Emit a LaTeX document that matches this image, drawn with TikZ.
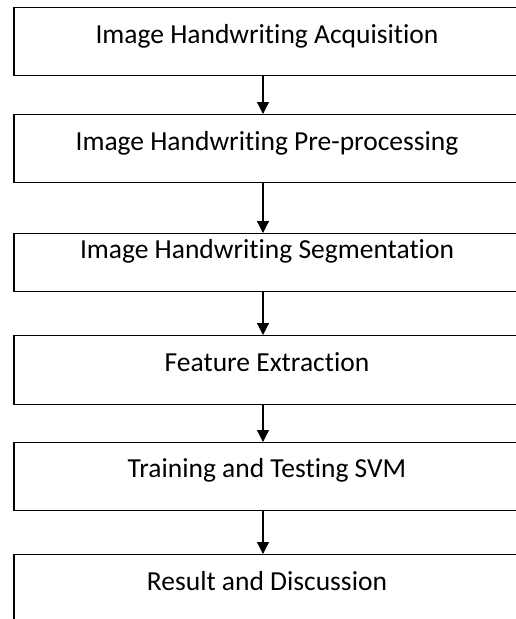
\documentclass[tikz,border=0pt]{standalone}
\usepackage{fontspec}
\setmainfont{Carlito}[RawFeature=-liga]
\usetikzlibrary{arrows.meta}

\tikzset{
  stage/.style={draw,line width=1.2pt,minimum width=506pt,inner sep=0pt,anchor=north,
    font=\fontsize{27.5}{32}\selectfont,text height=36pt,text depth=32pt},
  flow/.style={line width=1.2pt,-{Triangle[length=12pt,width=12pt]}}
}

\begin{document}
\begin{tikzpicture}[x=1pt,y=-1pt]
    \useasboundingbox (0,0) rectangle (515,619);

    \node[stage](acq)at(267,7){Image Handwriting Acquisition};
    \node[stage](pre)at(267,114){Image Handwriting Pre-processing};
    \node[stage,text height=25pt,text depth=33pt](seg)at(267,233){Image Handwriting Segmentation};
    \node[stage,text depth=33pt](feat)at(267,335){Feature Extraction};
    \node[stage,text height=35pt,text depth=33pt](svm)at(267,442){Training and Testing SVM};
    \node[stage,text depth=40pt](res)at(267,554){Result and Discussion};

    \draw[flow] ([xshift=-4pt]acq.south) to ([xshift=-4pt]pre.north);
    \draw[flow] ([xshift=-4pt]pre.south) to ([xshift=-4pt]seg.north);
    \draw[flow] ([xshift=-4pt]seg.south) to ([xshift=-4pt]feat.north);
    \draw[flow] ([xshift=-4pt]feat.south) to ([xshift=-4pt]svm.north);
    \draw[flow] ([xshift=-4pt]svm.south) to ([xshift=-4pt]res.north);
  \end{tikzpicture}
\end{document}
